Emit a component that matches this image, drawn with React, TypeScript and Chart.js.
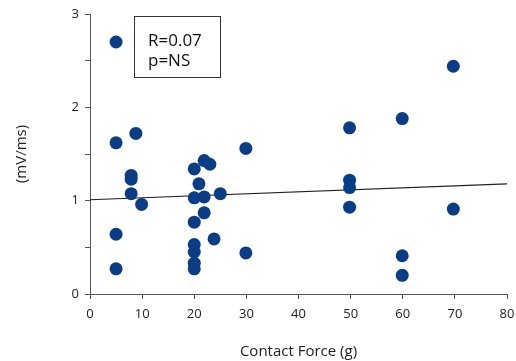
import React, { useEffect, useRef } from "react";
import { Chart, registerables } from "chart.js";

Chart.register(...registerables);

const forceX = [5, 5, 8.8, 7.9, 7.9, 7.9, 9.9, 5, 5, 20, 21.9, 23, 20.9, 20, 21.9, 25, 21.9, 20, 23.8, 20, 20, 20, 20, 29.9, 29.9, 49.8, 49.8, 49.8, 49.8, 59.9, 59.9, 59.9, 69.7, 69.7];
const slopeY = [2.7, 1.62, 1.72, 1.27, 1.23, 1.075, 0.96, 0.64, 0.27, 1.34, 1.43, 1.39, 1.18, 1.03, 1.04, 1.075, 0.87, 0.77, 0.59, 0.53, 0.45, 0.33, 0.27, 1.56, 0.44, 1.78, 1.22, 1.14, 0.93, 1.88, 0.41, 0.2, 2.44, 0.91];
const trendX = [0, 80];
const trendY = [1.01, 1.18];
const statsLines = ["R=0.07", "p=NS"];
const xTitle = "Contact Force (g)";
const yTitle = "(mV/ms)";

const FONT = "'Open Sans', Lato, sans-serif";
const AXIS = "#555555";

const statsBox = {
  id: "statsBox",
  afterDraw(chart: any) {
    const ctx = chart.ctx;
    ctx.save();
    ctx.strokeStyle = "#333333";
    ctx.lineWidth = 1;
    ctx.strokeRect(134.5, 16.5, 86, 61);
    ctx.fillStyle = "#111111";
    ctx.font = `17px ${FONT}`;
    ctx.textBaseline = "alphabetic";
    ctx.textAlign = "left";
    statsLines.forEach((t, i) => ctx.fillText(t, 148, 46 + i * 20));
    ctx.restore();
  },
};

export default function App() {
  const ref = useRef<HTMLCanvasElement | null>(null);
  useEffect(() => {
    document.body.style.margin = "0";
    const points = forceX.map((x, i) => ({ x, y: slopeY[i] }));
    const trend = trendX.map((x, i) => ({ x, y: trendY[i] }));
    const chart = new Chart(ref.current as HTMLCanvasElement, {
      type: "scatter",
      data: {
        datasets: [
          {
            data: points,
            backgroundColor: "#0b3d86",
            borderWidth: 0,
            pointRadius: 6.5,
            pointHoverRadius: 6.5,
          },
          {
            type: "line",
            data: trend,
            borderColor: "#222222",
            borderWidth: 1.2,
            pointRadius: 0,
            fill: false,
          } as any,
        ],
      },
      options: {
        animation: false,
        responsive: false,
        layout: { padding: { top: 14, right: 9, left: 0, bottom: 0 } },
        plugins: { legend: { display: false }, tooltip: { enabled: false } },
        scales: {
          x: {
            type: "linear",
            min: 0,
            max: 80,
            afterFit: (s: any) => { s.height = 67; s.paddingRight = 0; s.paddingLeft = 0; },
            ticks: { stepSize: 10, color: "#222", font: { family: FONT, size: 13 }, padding: 7, maxRotation: 0 },
            grid: { drawOnChartArea: false, drawTicks: true, tickLength: 5, color: AXIS },
            border: { color: AXIS, width: 1 },
            title: { display: true, text: xTitle, color: "#222", font: { family: FONT, size: 15 }, padding: { top: 0, bottom: 0 } },
          },
          y: {
            type: "linear",
            min: 0,
            max: 3,
            afterFit: (s: any) => { s.width = 90; s.paddingTop = 0; s.paddingBottom = 0; },
            ticks: {
              stepSize: 0.5,
              color: "#222",
              font: { family: FONT, size: 13 },
              padding: 6,
              callback: (v: any) => (Number.isInteger(v) ? String(v) : ""),
            },
            grid: { drawOnChartArea: false, drawTicks: true, tickLength: 5, color: AXIS },
            border: { color: AXIS, width: 1 },
            title: { display: true, text: yTitle, color: "#222", font: { family: FONT, size: 15 }, padding: { top: 13, bottom: 0 } },
          },
        },
      },
      plugins: [statsBox],
    });
    return () => chart.destroy();
  }, []);
  return <canvas ref={ref} width={516} height={361} style={{ display: "block" }} />;
}
